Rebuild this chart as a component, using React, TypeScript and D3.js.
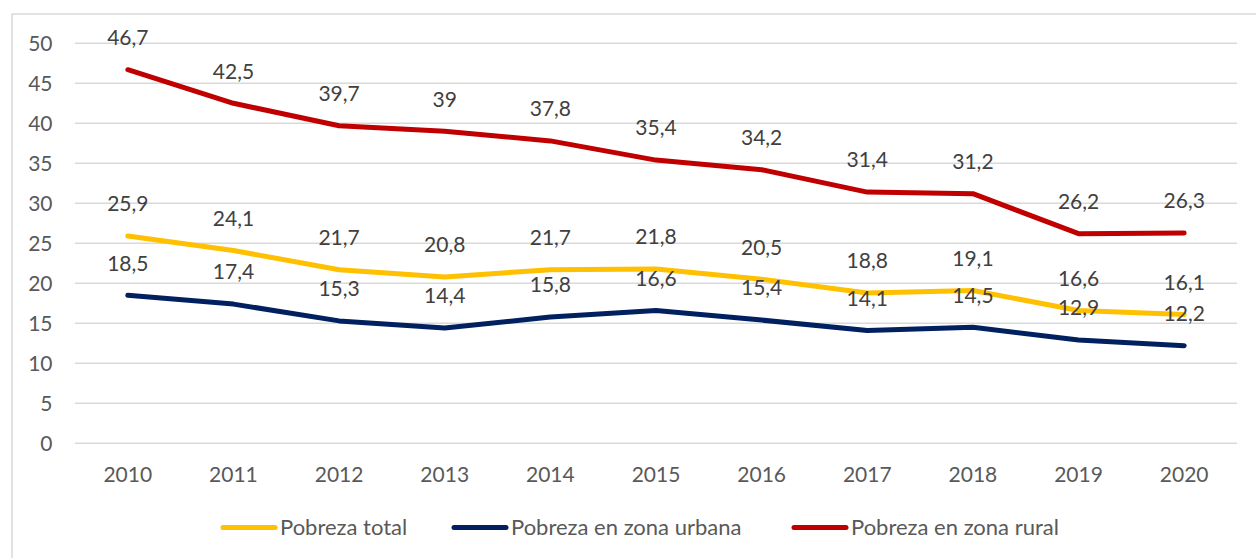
import React from 'react';
import * as d3 from 'd3';

const years = ['2010', '2011', '2012', '2013', '2014', '2015', '2016', '2017', '2018', '2019', '2020'];
const pobrezaTotal = [25.9, 24.1, 21.7, 20.8, 21.7, 21.8, 20.5, 18.8, 19.1, 16.6, 16.1];
const pobrezaUrbana = [18.5, 17.4, 15.3, 14.4, 15.8, 16.6, 15.4, 14.1, 14.5, 12.9, 12.2];
const pobrezaRural = [46.7, 42.5, 39.7, 39, 37.8, 35.4, 34.2, 31.4, 31.2, 26.2, 26.3];
const yTicks = [0, 5, 10, 15, 20, 25, 30, 35, 40, 45, 50];

const series = [
  { name: 'Pobreza total', values: pobrezaTotal, color: '#FFC000' },
  { name: 'Pobreza en zona urbana', values: pobrezaUrbana, color: '#002060' },
  { name: 'Pobreza en zona rural', values: pobrezaRural, color: '#C00000' },
];

const W = 1256;
const H = 558;
const font = "Lato, 'Open Sans', sans-serif";
const fmt = (v: number) => String(v).replace('.', ',');

export default function App() {
  // plot area spans the gridlines; categories sit in the middle of each band
  const x = d3.scalePoint<string>().domain(years).range([75, 1237]).padding(0.5);
  const y = d3.scaleLinear().domain([0, 50]).range([443.3, 43.3]);
  const line = d3.line<number>()
    .x((_, i) => x(years[i]) as number)
    .y(d => y(d));

  const legendX = [221, 452, 792];

  return (
    <svg width={W} height={H} style={{ position: 'absolute', left: 0, top: 0, background: '#fff' }}
      fontFamily={font}>
      <rect x={12} y={14} width={W} height={H} fill="none" stroke="#d9d9d9" strokeWidth={1.5} />
      {yTicks.map(t => (
        <g key={t}>
          <line x1={75} x2={1237} y1={y(t)} y2={y(t)} stroke="#d9d9d9" strokeWidth={1.5} />
          <text x={52.5} y={y(t)} dy="0.35em" textAnchor="end" fontSize={21} fill="#595959">{t}</text>
        </g>
      ))}
      {years.map(yr => (
        <text key={yr} x={x(yr)} y={475} dy="0.35em" textAnchor="middle" fontSize={21} fill="#595959">{yr}</text>
      ))}
      {series.map(s => (
        <path key={s.name} d={line(s.values) || ''} fill="none" stroke={s.color}
          strokeWidth={5} strokeLinecap="round" strokeLinejoin="round" />
      ))}
      {series.map(s => s.values.map((v, i) => (
        <text key={s.name + i} x={x(years[i])} y={y(v) - 32} dy="0.35em" textAnchor="middle"
          fontSize={21} fill="#404040">{fmt(v)}</text>
      )))}
      {series.map((s, i) => (
        <g key={s.name} transform={`translate(${legendX[i]},527.5)`}>
          <line x1={2} x2={54} y1={0} y2={0} stroke={s.color} strokeWidth={5} strokeLinecap="round" />
          <text x={59} y={0} dy="0.35em" fontSize={22} fill="#595959">{s.name}</text>
        </g>
      ))}
    </svg>
  );
}
